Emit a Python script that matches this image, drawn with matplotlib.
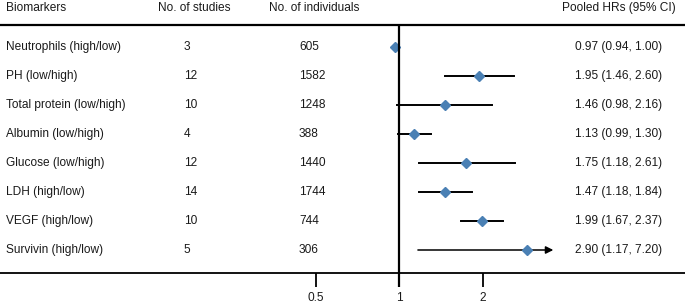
import numpy as np
import matplotlib.pyplot as plt
import matplotlib.transforms as mtransforms

plt.rcParams['font.family'] = ['Liberation Sans', 'DejaVu Sans']

biomarkers = ["Neutrophils (high/low)", "PH (low/high)", "Total protein (low/high)",
              "Albumin (low/high)", "Glucose (low/high)", "LDH (high/low)",
              "VEGF (high/low)", "Survivin (high/low)"]
n_studies = [3, 12, 10, 4, 12, 14, 10, 5]
n_individuals = [605, 1582, 1248, 388, 1440, 1744, 744, 306]
hr = [0.97, 1.95, 1.46, 1.13, 1.75, 1.47, 1.99, 2.90]
ci_low = [0.94, 1.46, 0.98, 0.99, 1.18, 1.18, 1.67, 1.17]
ci_high = [1.00, 2.60, 2.16, 1.30, 2.61, 1.84, 2.37, 7.20]
ticks = [0.5, 1, 2]
clip_max = 3.6

W, H = 685, 304
fig = plt.figure(figsize=(W / 100, H / 100), dpi=100)
ax = fig.add_axes([0, 0, 1, 1])
ax.set_xscale('log')
ax.axis('off')

# pixel layout: x=1 at 399px, 83.5 px per doubling; rows at 47 + 29*i px
px1, ppd = 399, 83.5
ax.set_xlim(2 ** (-px1 / ppd), 2 ** ((W - px1) / ppd))
row0, dy = 47, 29
def prow(p):
    return (p - row0) / dy
ax.set_ylim(prow(H), prow(0))

tr = mtransforms.blended_transform_factory(fig.transFigure, ax.transData)
fs = 8.6
col = '#1a1a1a'

# header
hy = prow(8)
ax.text(6 / W, hy, "Biomarkers", transform=tr, fontsize=fs, va='center', color=col)
ax.text(158 / W, hy, "No. of studies", transform=tr, fontsize=fs, va='center', color=col)
ax.text(269 / W, hy, "No. of individuals", transform=tr, fontsize=fs, va='center', color=col)
ax.text(676 / W, hy, "Pooled HRs (95% CI)", transform=tr, fontsize=fs, va='center',
        ha='right', color=col)

# horizontal rules
ax.axhline(prow(25), color='black', lw=1.6)
ax.axhline(prow(273.5), color='black', lw=1.3)
ax.plot([1, 1], [prow(25), prow(287)], color='black', lw=1.6, solid_capstyle='butt', zorder=6)
for t in ticks:
    ax.plot([t, t], [prow(273.5), prow(287)], color='black', lw=1.3, solid_capstyle='butt')
    ax.text(t, prow(298), f"{t:g}", ha='center', va='center', fontsize=fs, color=col)

for i in range(len(biomarkers)):
    ax.text(6 / W, i, biomarkers[i], transform=tr, fontsize=fs, va='center', color=col)
    ax.text(184 / W, i, str(n_studies[i]), transform=tr, fontsize=fs, va='center', color=col)
    ax.text(299 / W, i, str(n_individuals[i]), transform=tr, fontsize=fs, va='center', color=col)
    ax.text(575 / W, i, f"{hr[i]:.2f} ({ci_low[i]:.2f}, {ci_high[i]:.2f})", transform=tr,
            fontsize=fs, va='center', color=col)
    hi = min(ci_high[i], clip_max)
    if ci_high[i] > clip_max:
        ax.annotate("", xy=(hi, i), xytext=(ci_low[i], i),
                    arrowprops=dict(arrowstyle='-|>', color='black', lw=1.1,
                                    mutation_scale=11, shrinkA=0, shrinkB=0))
    else:
        ax.plot([ci_low[i], hi], [i, i], color='black', lw=1.4)
    ax.plot(hr[i], i, marker='D', color='#4A80B4', markersize=5.5, zorder=5)

fig.savefig('out.png', dpi=100)
